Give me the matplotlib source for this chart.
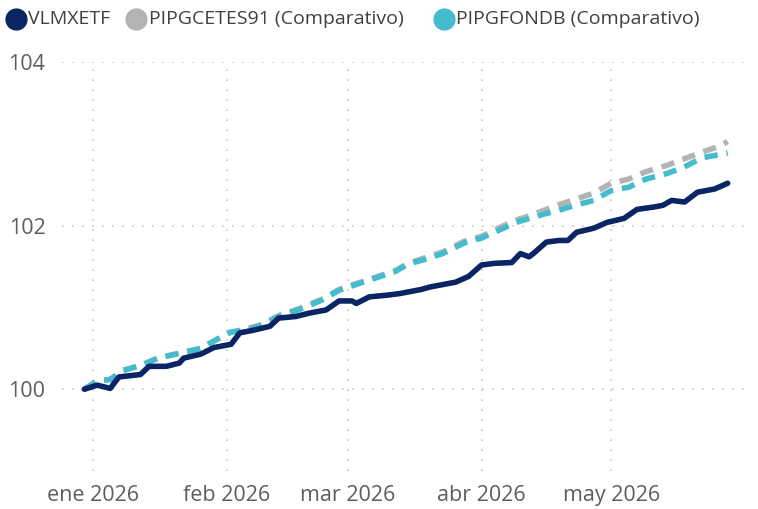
import pandas as pd
import matplotlib.pyplot as plt
from matplotlib.lines import Line2D

# VLMXETF
etf_dates = ['2025-12-30', '2026-01-02', '2026-01-05', '2026-01-07', '2026-01-12', '2026-01-14',
             '2026-01-18', '2026-01-21', '2026-01-22', '2026-01-26', '2026-01-29', '2026-02-02',
             '2026-02-04', '2026-02-07', '2026-02-11', '2026-02-13', '2026-02-17', '2026-02-20',
             '2026-02-24', '2026-02-27', '2026-03-02', '2026-03-03', '2026-03-06', '2026-03-10',
             '2026-03-13', '2026-03-18', '2026-03-20', '2026-03-26', '2026-03-29', '2026-04-01',
             '2026-04-04', '2026-04-08', '2026-04-10', '2026-04-12', '2026-04-13', '2026-04-16',
             '2026-04-19', '2026-04-21', '2026-04-23', '2026-04-27', '2026-04-30', '2026-05-04',
             '2026-05-07', '2026-05-11', '2026-05-13', '2026-05-15', '2026-05-18', '2026-05-21',
             '2026-05-25', '2026-05-28']
etf_vals = [100.00, 100.05, 100.01, 100.15, 100.18, 100.28, 100.28, 100.32, 100.38, 100.43,
            100.51, 100.55, 100.69, 100.72, 100.77, 100.87, 100.89, 100.93, 100.97, 101.08,
            101.08, 101.05, 101.13, 101.15, 101.17, 101.22, 101.25, 101.31, 101.38, 101.52,
            101.54, 101.55, 101.66, 101.62, 101.66, 101.80, 101.82, 101.82, 101.92, 101.97,
            102.04, 102.09, 102.20, 102.23, 102.25, 102.31, 102.29, 102.41, 102.45, 102.52]

# comparativos
comp_dates = ['2025-12-30', '2026-01-02', '2026-01-05', '2026-01-08', '2026-01-12', '2026-01-16',
              '2026-01-21', '2026-01-26', '2026-01-29', '2026-02-02', '2026-02-05', '2026-02-09',
              '2026-02-13', '2026-02-18', '2026-02-23', '2026-02-27', '2026-03-04', '2026-03-08',
              '2026-03-12', '2026-03-15', '2026-03-19', '2026-03-23', '2026-03-28', '2026-04-01',
              '2026-04-04', '2026-04-09', '2026-04-12', '2026-04-16', '2026-04-19', '2026-04-22',
              '2026-04-27', '2026-05-01', '2026-05-05', '2026-05-09', '2026-05-14', '2026-05-18',
              '2026-05-22', '2026-05-26', '2026-05-28']
cetes_vals = [100.00, 100.10, 100.12, 100.23, 100.29, 100.38, 100.44, 100.50, 100.59, 100.70,
              100.73, 100.79, 100.90, 100.99, 101.10, 101.22, 101.31, 101.38, 101.45, 101.54,
              101.61, 101.68, 101.81, 101.87, 101.95, 102.07, 102.12, 102.20, 102.26, 102.31,
              102.40, 102.52, 102.57, 102.66, 102.74, 102.82, 102.90, 102.97, 103.03]
fondb_vals = [100.00, 100.10, 100.12, 100.23, 100.29, 100.38, 100.44, 100.50, 100.59, 100.70,
              100.72, 100.78, 100.89, 100.98, 101.09, 101.21, 101.30, 101.37, 101.44, 101.53,
              101.59, 101.66, 101.79, 101.85, 101.92, 102.04, 102.09, 102.15, 102.19, 102.24,
              102.31, 102.43, 102.47, 102.57, 102.64, 102.72, 102.83, 102.87, 102.89]

month_ticks = ['2026-01-01', '2026-02-01', '2026-03-01', '2026-04-01', '2026-05-01']
month_labels = ['ene 2026', 'feb 2026', 'mar 2026', 'abr 2026', 'may 2026']

names = ['VLMXETF', 'PIPGCETES91 (Comparativo)', 'PIPGFONDB (Comparativo)']
colors = ['#0b2463', '#b3b3b3', '#44bccd']

plt.rcParams['font.family'] = ['Open Sans', 'DejaVu Sans']

W, H = 758, 509
fig = plt.figure(figsize=(W / 100, H / 100), dpi=100)
ax = fig.add_axes([0.0818, 0.0747, 0.901, 0.803])

cd = pd.to_datetime(comp_dates)
ax.plot(cd, cetes_vals, color=colors[1], lw=4, dashes=(2.4, 1.6), solid_capstyle='butt')
ax.plot(cd, fondb_vals, color=colors[2], lw=4, dashes=(2.4, 1.6), solid_capstyle='butt')
ax.plot(pd.to_datetime(etf_dates), etf_vals, color=colors[0], lw=4,
        solid_capstyle='round', solid_joinstyle='round')

ax.set_ylim(99, 104)
ax.set_yticks([100, 102, 104])
ax.set_xlim(pd.Timestamp('2025-12-24 20:00'), pd.Timestamp('2026-06-01'))
ax.set_xticks(pd.to_datetime(month_ticks))
ax.set_xticklabels(month_labels)

ax.grid(True, color='#c8c8c8', linestyle=(0, (1, 5)), linewidth=1.2)
for s in ax.spines.values():
    s.set_visible(False)
ax.tick_params(length=0, labelsize=15.5, colors='#605e5c', pad=10)
ax.tick_params(axis='y', pad=12)

# legend drawn by hand along the top (pixel positions of each item)
leg_circle_x = [16, 136, 444]
leg_text_x = [28, 149, 456]
leg_y = 1 - 19 / H
for cx, tx, c, n in zip(leg_circle_x, leg_text_x, colors, names):
    fig.add_artist(Line2D([cx / W], [leg_y], marker='o', markersize=15, color=c,
                          linestyle='none', transform=fig.transFigure))
    fig.text(tx / W, leg_y, n, fontsize=14, color='#404040', va='center', ha='left')

fig.savefig('out.png', dpi=100)
